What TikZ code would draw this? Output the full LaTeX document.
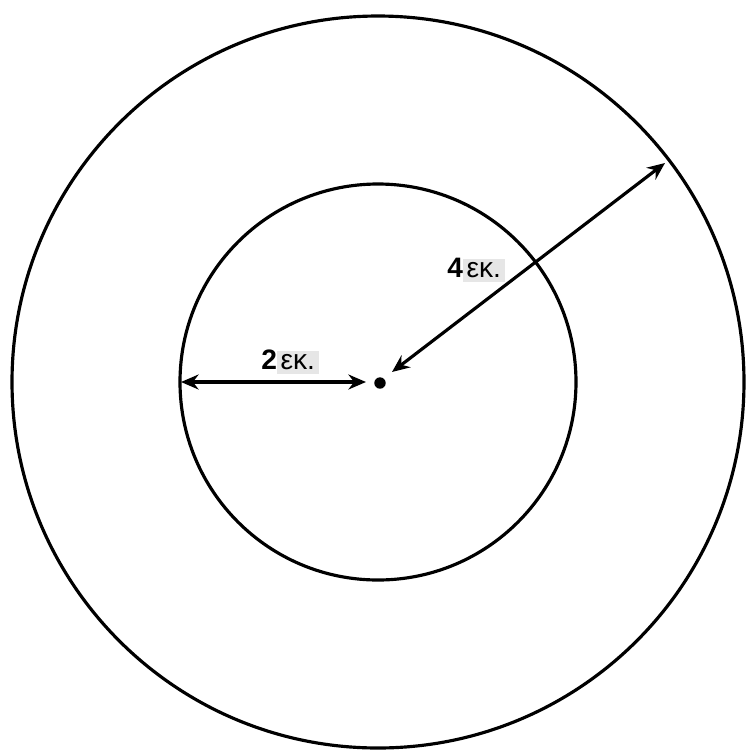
\documentclass[tikz,border=0pt]{standalone}
\usepackage{fontspec}
\setmainfont{Liberation Sans}
\usetikzlibrary{arrows.meta,positioning}
\definecolor{LabelGrey}{HTML}{E6E6E6}

\newcommand{\radlabel}[1]{\textbf{#1}{\setlength\fboxsep{2pt}\colorbox{LabelGrey}{εκ.}}}

\begin{document}
\begin{tikzpicture}[
  x=0.02cm, y=-0.02cm,
  font=\fontsize{16}{18}\selectfont,
  ring/.style={draw=black, line width=1.8pt},
  arr/.style={{Stealth[length=10pt,width=8.5pt]}-{Stealth[length=10pt,width=8.5pt]}, line width=1.8pt},
  lbl/.style={inner sep=0pt}
]
\useasboundingbox (0,0) rectangle (746,752);
\coordinate (c) at (378,382);
\draw[ring] (c) circle[radius=366];
\draw[ring] (c) circle[radius=198];
\node[circle, fill=black, inner sep=0pt, minimum size=6.5pt] (dot) at (380,383) {};
% radius arrows
\coordinate (inL) at (181,382);
\coordinate (inR) at (366,382);
\coordinate (outA) at (392,372);
\coordinate (outB) at (665,163);
\draw[arr] (inL) -- (inR);
\draw[arr] (outA) -- (outB);
\node[lbl] (two) at (290,362) {\radlabel{2}};
\node[lbl] (four) at (476,270) {\radlabel{4}};
\end{tikzpicture}
\end{document}
